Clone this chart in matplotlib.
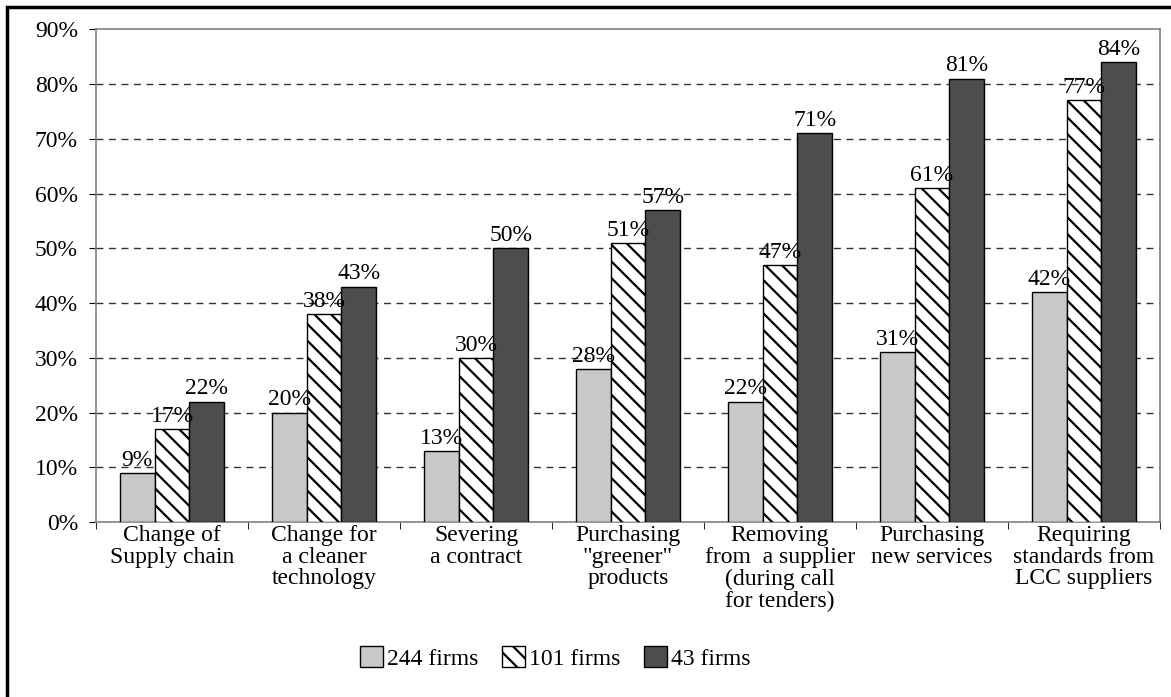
import numpy as np
import matplotlib
matplotlib.use("Agg")
import matplotlib.pyplot as plt
from matplotlib.patches import Rectangle, Patch
from matplotlib.ticker import FixedLocator, FuncFormatter

plt.rcParams['font.family'] = ['Liberation Serif', 'DejaVu Serif']
plt.rcParams['hatch.linewidth'] = 1.6

# survey answers per action, share of firms
categories = ["Change of\nSupply chain",
              "Change for\na cleaner\ntechnology",
              "Severing\na contract",
              "Purchasing\n\"greener\"\nproducts",
              "Removing\nfrom  a supplier\n(during call\nfor tenders)",
              "Purchasing\nnew services",
              "Requiring\nstandards from\nLCC suppliers"]
series_names = ["244 firms", "101 firms", "43 firms"]
firms_244 = [9, 20, 13, 28, 22, 31, 42]
firms_101 = [17, 38, 30, 51, 47, 61, 77]
firms_43 = [22, 43, 50, 57, 71, 81, 84]

fig = plt.figure(figsize=(11.71, 6.97), dpi=100)
ax = fig.add_axes([0.082, 0.251, 0.9086, 0.707])

x = np.arange(len(categories))
w = 0.23
styles = [dict(color="#c8c8c8", hatch=None),
          dict(color="white", hatch="\\\\"),
          dict(color="#4d4d4d", hatch=None)]
fs = 17

for k, vals in enumerate([firms_244, firms_101, firms_43]):
    st = styles[k]
    bars = ax.bar(x + (k - 1) * w, vals, w, color=st["color"], hatch=st["hatch"],
                  edgecolor="black", linewidth=1.0, zorder=3)
    for b, v in zip(bars, vals):
        ax.text(b.get_x() + b.get_width() / 2, v + 0.4, f"{v}%", ha="center",
                va="bottom", fontsize=fs, zorder=4)

ax.set_xlim(-0.5, len(categories) - 0.5)
ax.set_ylim(0, 90)
ax.set_yticks(np.arange(0, 91, 10))
ax.yaxis.set_major_formatter(FuncFormatter(lambda v, p: f"{v:.0f}%"))
for yv in range(10, 90, 10):
    ax.axhline(yv, color="#333333", lw=1.0, ls=(0, (5, 4)), zorder=1)

ax.set_xticks(x)
ax.set_xticklabels(categories, fontsize=fs, linespacing=1.05, va="top")
ax.xaxis.set_minor_locator(FixedLocator(np.arange(-0.5, len(categories), 1)))
ax.tick_params(axis="x", which="major", length=0, pad=2)
ax.tick_params(axis="x", which="minor", length=5, direction="out", color="black")
ax.tick_params(axis="y", length=5, direction="out", labelsize=fs, pad=8, color="black")

for s in ax.spines.values():
    s.set_color("#808080")
    s.set_linewidth(1.2)

handles = [Patch(facecolor=st["color"], hatch=st["hatch"], edgecolor="black", lw=1.0)
           for st in styles]
fig.legend(handles, series_names, loc="center", bbox_to_anchor=(0.474, 0.056),
           ncol=3, frameon=False, fontsize=fs, handlelength=1.0, handleheight=1.0,
           handletextpad=0.15, columnspacing=1.0)

# outer border of the figure
fig.add_artist(Rectangle((7 / 1171, -0.05), 1.1, 1 - 7 / 697 + 0.05,
                         transform=fig.transFigure, fill=False,
                         edgecolor="black", lw=2.5, clip_on=False))

fig.savefig("out.png", dpi=100)
